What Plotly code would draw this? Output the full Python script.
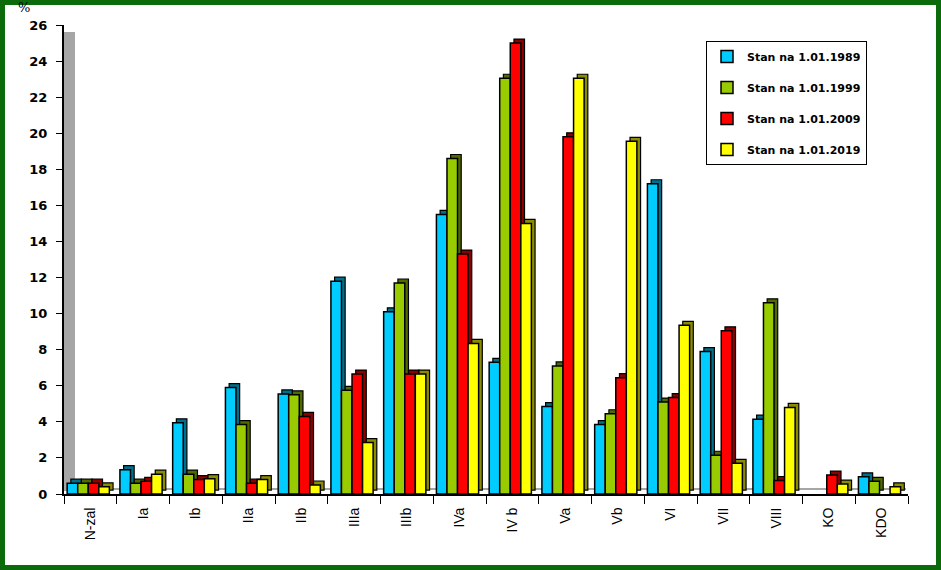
import plotly.graph_objects as go

categories = ["N-zal", "Ia", "Ib", "IIa", "IIb", "IIIa", "IIIb", "IVa", "IV b", "Va", "Vb", "VI", "VII", "VIII", "KO", "KDO"]
s1989 = [0.6, 1.35, 3.95, 5.9, 5.55, 11.8, 10.1, 15.5, 7.3, 4.85, 3.85, 17.2, 7.9, 4.15, 0, 0.95]
s1999 = [0.6, 0.6, 1.1, 3.85, 5.5, 5.75, 11.7, 18.6, 23.05, 7.1, 4.45, 5.1, 2.15, 10.6, 0, 0.7]
s2009 = [0.6, 0.7, 0.8, 0.6, 4.3, 6.65, 6.65, 13.3, 25.0, 19.8, 6.45, 5.35, 9.05, 0.75, 1.05, 0]
s2019 = [0.4, 1.1, 0.85, 0.8, 0.5, 2.85, 6.65, 8.35, 15.0, 23.05, 19.55, 9.35, 1.7, 4.8, 0.55, 0.4]
series_names = ["Stan na 1.01.1989", "Stan na 1.01.1999", "Stan na 1.01.2009", "Stan na 1.01.2019"]
colors = ["#00CCFF", "#99CC00", "#FF0000", "#FFFF00"]
side_colors = ["#006F8C", "#4F6B00", "#8C0000", "#8C8C00"]
yticks = list(range(0, 27, 2))

BW = 0.2            # bar width in category units
OFFS = [-0.44, -0.24, -0.04, 0.16]
DX = 0.07           # depth offset (category units)
DY = 0.22           # depth offset (value units)

fig = go.Figure()
series = [s1989, s1999, s2009, s2019]
# depth (3D side/top) faces
for i, vals in enumerate(series):
    yv = [v if v > 0 else None for v in vals]
    fig.add_trace(go.Bar(
        x=categories, y=yv, base=DY, width=BW, offset=OFFS[i] + DX,
        marker=dict(color=side_colors[i], line=dict(color="black", width=1.2)),
        showlegend=False, hoverinfo="skip",
    ))
# front faces
for i, (name, vals, col) in enumerate(zip(series_names, series, colors)):
    yv = [v if v > 0 else None for v in vals]
    fig.add_trace(go.Bar(
        x=categories, y=yv, name=name, legendgroup=str(i), width=BW, offset=OFFS[i],
        marker=dict(color=col, line=dict(color="black", width=1.5)),
    ))

W, H = 941, 570
L, R, T, B = 64, 33, 25, 76
pw, ph = W - L - R, H - T - B
def px(x): return (x - L) / pw
def py(y): return (H - B - y) / ph

shapes = [
    # gray side wall
    dict(type="rect", xref="paper", yref="paper", x0=0, x1=px(75), y0=py(491), y1=py(32),
         fillcolor="#A6A6A6", line=dict(width=0), layer="below"),
    # floor
    dict(type="line", xref="paper", yref="paper", x0=px(75), x1=px(906), y0=py(489), y1=py(489),
         line=dict(color="#A6A6A6", width=2), layer="below"),
    # green frame
    dict(type="rect", xref="paper", yref="paper", x0=px(2.5), x1=px(938.5), y0=py(2.5), y1=py(567.5),
         line=dict(color="#0B6B0B", width=5)),
]

fig.update_layout(
    width=W, height=H,
    margin=dict(l=L, r=R, t=T, b=B),
    paper_bgcolor="white", plot_bgcolor="white",
    barmode="overlay",
    font=dict(family="DejaVu Sans", size=12, color="black"),
    showlegend=True,
    legend=dict(x=px(706), y=py(41), xanchor="left", yanchor="top",
                bordercolor="black", borderwidth=1, bgcolor="white",
                font=dict(size=11, family="DejaVu Sans", weight="bold"),
                tracegroupgap=12, itemwidth=30),
    shapes=shapes,
    annotations=[dict(text="%", xref="paper", yref="paper", x=px(24), y=py(17),
                      xanchor="center", yanchor="bottom", showarrow=False,
                      font=dict(size=13, family="DejaVu Serif"))],
    xaxis=dict(showline=True, linecolor="black", linewidth=2, ticks="outside",
               tickson="boundaries", ticklen=8, tickcolor="black", tickangle=-90,
               tickfont=dict(size=14, family="Liberation Sans"), showgrid=False,
               ticklabelstandoff=6, range=[-0.5, 15.5]),
    yaxis=dict(range=[0, 26], tickvals=yticks, showline=True, linecolor="black", linewidth=2,
               ticks="outside", ticklen=6, tickcolor="black", showgrid=False, zeroline=False,
               ticklabelstandoff=6,
               tickfont=dict(size=13, family="DejaVu Sans", weight="bold")),
)

fig.write_html("out.html", config={"displayModeBar": False},
               post_script="document.body.style.margin='0';")
